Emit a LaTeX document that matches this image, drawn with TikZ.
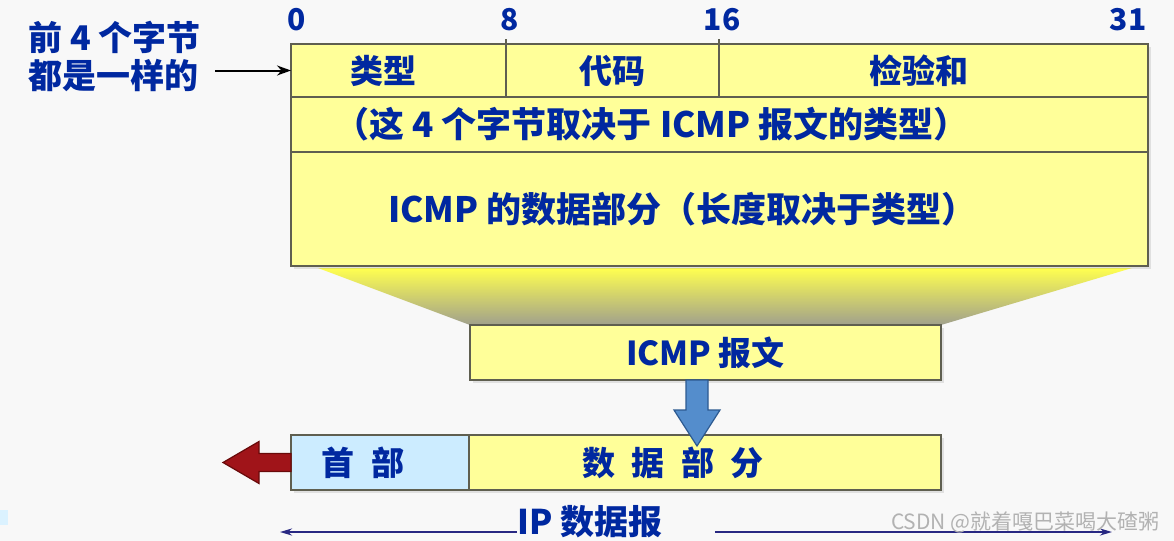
\documentclass[tikz,border=0pt]{standalone}
\usepackage{fontspec}
\setmainfont{Noto Sans CJK SC}
\usetikzlibrary{arrows.meta, calc, shadows, backgrounds}
\definecolor{cText}{RGB}{0,40,160}
\definecolor{cYellow}{RGB}{255,255,153}
\definecolor{cSky}{RGB}{204,236,255}
\definecolor{cEdge}{RGB}{95,95,80}
\definecolor{cSteel}{RGB}{84,141,204}
\definecolor{cSteelD}{RGB}{45,90,145}
\definecolor{cBrick}{RGB}{160,20,25}
\definecolor{cBrickD}{RGB}{105,10,10}
\definecolor{cNavy}{RGB}{40,40,130}
\definecolor{cPaper}{RGB}{248,248,248}
\definecolor{cFunTop}{RGB}{255,255,80}
\definecolor{cFunMid}{RGB}{240,240,105}
\definecolor{cFunBot}{RGB}{160,160,140}
\tikzset{
	field/.style  ={rectangle, draw=cEdge, line width=0.7pt, fill=cYellow, anchor=north west, inner sep=0pt, outer sep=0pt, minimum height=27.5pt, text=cText, font=\fontsize{16.5}{18}\selectfont\bfseries, drop shadow={shadow xshift=1.5pt, shadow yshift=-1.5pt, opacity=0.2}},
	wide/.style   ={font=\fontsize{17.5}{19}\selectfont\bfseries},
	bitno/.style  ={text=cText, font=\fontsize{15}{16}\selectfont\bfseries, inner sep=0pt},
	note/.style   ={text=cText, font=\fontsize{17}{19}\selectfont\bfseries, align=left, inner sep=0pt, anchor=west},
	wmark/.style  ={text=gray!60, font=\fontsize{10.5}{12}\selectfont, inner sep=0pt},
	pointer/.style={-{Stealth[length=7pt, width=5pt]}, line width=1pt, black},
	span/.style   ={-{Stealth[length=6pt, width=3.5pt]}, line width=1.1pt, cNavy},
	fatblue/.style={fill=cSteel, draw=cSteelD, line width=0.6pt},
	fatred/.style ={fill=cBrick, draw=cBrickD, line width=0.6pt},
}
\begin{document}
\begin{tikzpicture}[x=0.5pt, y=-0.5pt]
	% header fields of the ICMP message
	\node[field, minimum width=107.5pt, minimum height=26.5pt] (typ) at (291,44) {类型\hspace*{15pt}};
	\node[field, minimum width=106.5pt, minimum height=26.5pt] (cod) at (506,44) {代码};
	\node[field, minimum width=214.5pt, minimum height=26.5pt] (sum) at (719,44) {检验和\hspace*{15pt}};
	\node[field, wide, minimum width=428.5pt] (var) at (291,97) {（这 4 个字节取决于 ICMP 报文的类型）\hspace*{68pt}};
	\node[field, wide, minimum width=428.5pt, minimum height=57pt] (dat) at (291,152) {ICMP 的数据部分（长度取决于类型）\hspace*{37pt}};
	\draw[cEdge, line width=0.7pt] (typ.north east) -- ++(0,-5);
	\draw[cEdge, line width=0.7pt] (cod.north east) -- ++(0,-5);
	\foreach \x/\b in {297/0, 510/8, 722/16, 1128/31} {
		\node[bitno] (b\b) at (\x,20) {\b};
	}
	\node[note] (lbl) at (28,56) {前 4 个字节\\都是一样的};
	\draw[pointer, shorten <=7pt] (lbl.east |- typ.west) -- (typ.west);

	% the whole message and the IP datagram carrying it
	\node[field, minimum width=235.5pt] (msg) at (470,325) {ICMP 报文};
	\node[field, fill=cSky, minimum width=89pt] (hdr) at (291,435) {首\enspace 部\hspace*{17pt}};
	\node[field, minimum width=236pt] (pay) at (469,435) {数\enspace 据\enspace 部\enspace 分\hspace*{32pt}};
	\coordinate (tip) at (697,446);
	\filldraw[fatblue] (msg.south -| tip) ++(-11,0) -- ++(0,30) -- ++(-12,0) -- (tip) -- ++(23,-36) -- ++(-12,0) -- ++(0,-30) -- cycle;
	\coordinate (out) at (223,462.5);
	\filldraw[fatred] (hdr.west) ++(0,-9) -- ++(-32,0) -- ++(0,-12) -- (out) -- ++(36,21) -- ++(0,-12) -- ++(32,0) -- cycle;

	\node[note, anchor=center] (ip) at (590,522) {IP 数据报};
	\coordinate (ipL) at (280,532);
	\coordinate (ipR) at (1112,532);
	\draw[span] (ip.west |- ipL) -- (ipL);
	\draw[span, shorten <=26pt] (ip.east |- ipR) -- (ipR);
	\node[wmark, anchor=east] (wm) at (1160,522) {CSDN @就着嘎巴菜喝大碴粥};

	\begin{scope}[on background layer]
		\fill[cPaper] (0,0) rectangle (1174,541);
		\fill[cSky!70] (0,510) rectangle (8,525);
		\shade[top color=cFunTop, middle color=cFunMid, bottom color=cFunBot] (318,268) -- (1132,268) -- (msg.north east) -- (msg.north west) -- cycle;
	\end{scope}
\end{tikzpicture}
\end{document}
